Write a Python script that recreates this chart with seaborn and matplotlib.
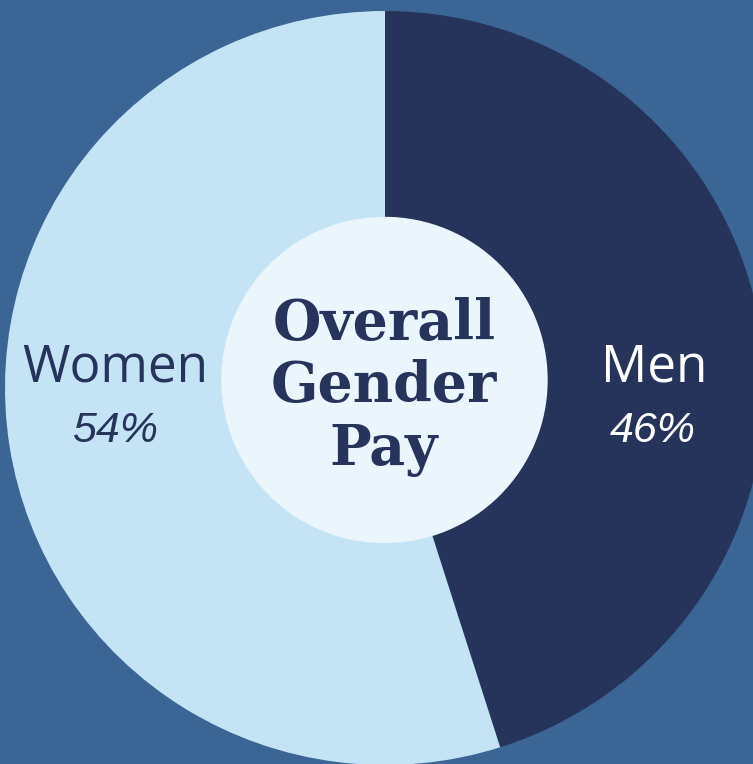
import matplotlib
matplotlib.use("Agg")
import matplotlib.pyplot as plt
import seaborn as sns

# data
labels = ["Men", "Women"]
shares = [45.1, 54.9]          # wedge sizes as drawn in the reference
pct_text = ["46%", "54%"]      # printed labels
center_title = ["Overall", "Gender", "Pay"]

BG = "#3a6594"
NAVY = "#26335b"
LIGHT = "#c4e3f4"
INNER = "#eaf5fc"

sns.set_style("white")
plt.rcParams["font.family"] = ["Open Sans", "DejaVu Sans"]

W, H = 753, 764
fig = plt.figure(figsize = (W / 100, H / 100), dpi = 100, facecolor = BG)

# pie gets its own axes sized to the (slightly wide) ellipse box
cx, cy, rx, ry = 385, 388, 380, 377
pie_ax = fig.add_axes([(cx - rx) / W, (H - cy - ry) / H, 2 * rx / W, 2 * ry / H])
colors = sns.color_palette([NAVY, LIGHT])
pie_ax.pie(shares, colors = colors, startangle = 90, counterclock = False,
           radius = 1, wedgeprops = {"linewidth": 0})
pie_ax.set_aspect("auto")
pie_ax.set_xlim(-1, 1)
pie_ax.set_ylim(-1, 1)
pie_ax.axis("off")

# overlay axes in pixel coordinates for the hole and the texts
ax = fig.add_axes([0, 0, 1, 1])
ax.set_xlim(0, W)
ax.set_ylim(0, H)
ax.axis("off")
ax.patch.set_alpha(0)

ax.add_patch(plt.Circle((384.5, H - 380), 162.5, color = INNER, zorder = 3))

for txt, y in zip(center_title, [340, 402, 465]):
    ax.text(384, H - y, txt, ha = "center", va = "baseline", fontsize = 40,
            fontweight = "bold", family = ["DejaVu Serif"], color = NAVY, zorder = 4)

pct_font = ["Liberation Sans", "DejaVu Sans"]
ax.text(654, H - 382, labels[0], ha = "center", va = "baseline", fontsize = 37, color = "white")
ax.text(653, H - 442, pct_text[0], ha = "center", va = "baseline", fontsize = 31,
        style = "italic", family = pct_font, color = "white")
ax.text(115, H - 382, labels[1], ha = "center", va = "baseline", fontsize = 37, color = NAVY)
ax.text(115, H - 442, pct_text[1], ha = "center", va = "baseline", fontsize = 31,
        style = "italic", family = pct_font, color = NAVY)

fig.savefig("out.png", dpi = 100, facecolor = BG)
